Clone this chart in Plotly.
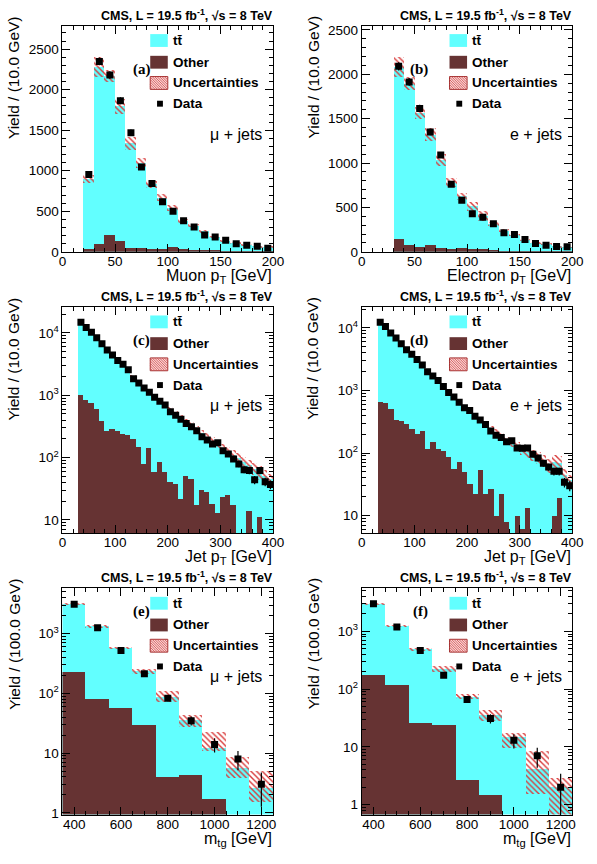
import numpy as np
import plotly.graph_objects as go

W, H = 597, 864

# ---------------- data ----------------
# (a) muon pT, 10 GeV bins from 20 to 200
a_centers = np.arange(25, 200, 10)
a_total = [905, 2280, 2170, 1800, 1345, 1100, 835, 672, 541, 387, 326, 256, 183, 142, 110, 90, 69, 57]
a_other = [41, 102, 212, 134, 53, 53, 41, 41, 61, 33, 25, 20, 20, 15, 12, 10, 8, 8]
a_unc = [50, 122, 71, 92, 81, 61, 40, 45, 40, 22, 20, 22, 14, 12, 10, 9, 7, 6]
a_data = [953, 2349, 2182, 1865, 1470, 1046, 843, 619, 500, 383, 305, 208, 183, 142, 98, 81, 69, 45]

# (b) electron pT, 10 GeV bins from 30 to 200
b_centers = np.arange(35, 200, 10)
b_total = [2090, 1900, 1567, 1325, 1034, 784, 627, 515, 410, 317, 243, 194, 138, 104, 93, 63, 52]
b_other = [149, 82, 56, 75, 49, 37, 49, 37, 37, 19, 15, 12, 10, 10, 10, 8, 8]
b_unc = [112, 75, 63, 75, 69, 56, 43, 50, 56, 20, 20, 12, 10, 10, 12, 6, 5]
b_data = [2090, 1914, 1616, 1351, 1090, 761, 582, 429, 388, 317, 216, 194, 138, 93, 75, 60, 56]

# (c) jet pT mu+jets, 10 GeV bins from 30 to 400
c_centers = np.arange(35, 400, 10)
c_total = [14000, 12000, 10000, 8200, 6700, 5400, 4400, 3650, 3100, 2600, 2000, 1650, 1380, 1150, 960,
           820, 700, 590, 510, 440, 380, 330, 285, 245, 215, 185, 165, 143, 126, 110, 97, 85, 75, 66,
           58, 51, 45]
c_other = [1000, 850, 750, 600, 380, 265, 290, 265, 235, 230, 195, 145, 80, 140, 58, 85, 58, 40, 38, 22,
           50, 45, 17, 30, 28, 18, 13, 23, 25, 17, 0, 0, 14, 0, 11, 0, 0]
c_unc_rel = [0.03, 0.03, 0.03, 0.03, 0.03, 0.035, 0.035, 0.04, 0.04, 0.045, 0.05, 0.05, 0.06, 0.06, 0.07,
             0.07, 0.08, 0.08, 0.09, 0.1, 0.1, 0.11, 0.12, 0.12, 0.13, 0.14, 0.15, 0.15, 0.17, 0.18, 0.2,
             0.2, 0.22, 0.22, 0.25, 0.22, 0.2]
c_data = [14800, 12150, 10250, 8330, 6680, 5310, 4420, 3600, 3140, 2550, 1840, 1570, 1310, 1116, 930,
          803, 694, 543, 475, 411, 351, 311, 268, 215, 191, 165, 173, 129, 114, 95, 79, 64, 62, 44, 62,
          41, 37]

# (d) jet pT e+jets
d_centers = np.arange(35, 400, 10)
d_total = [11800, 10200, 8200, 6800, 5600, 4500, 3800, 3150, 2550, 2050, 1700, 1420, 1180, 960, 800,
           660, 545, 470, 400, 340, 290, 245, 210, 185, 160, 145, 128, 115, 104, 94, 85, 76, 65, 72, 70,
           45, 37]
d_other = [646, 630, 495, 336, 324, 287, 239, 200, 225, 116, 147, 116, 109, 85, 56, 71, 50, 32, 22, 53,
           22, 27, 10, 22, 8, 0, 10, 6, 13, 0, 0, 0, 0, 10, 19, 0, 0]
d_unc_rel = [0.03, 0.03, 0.03, 0.03, 0.03, 0.035, 0.035, 0.04, 0.04, 0.045, 0.05, 0.05, 0.06, 0.06, 0.07,
             0.07, 0.08, 0.09, 0.1, 0.1, 0.1, 0.12, 0.13, 0.13, 0.14, 0.15, 0.16, 0.18, 0.2, 0.2, 0.22,
             0.22, 0.25, 0.3, 0.3, 0.25, 0.22]
d_data = [12300, 10500, 8240, 6870, 5590, 4490, 3790, 3120, 2545, 1995, 1705, 1440, 1157, 930, 785, 647,
          527, 477, 388, 336, 287, 225, 192, 177, 151, 157, 120, 119, 120, 96, 83, 69, 60, 51, 51, 34, 30]

# (e) m_tg mu+jets, 100 GeV bins 350..1250
e_centers = np.arange(400, 1201, 100)
e_total = [3100, 1320, 557, 229, 86, 35, 11.9, 5.6, 2.6]
e_other = [223, 80, 56, 29, 3.9, 4.3, 1.7, 0, 0]
e_up = [3200, 1370, 580, 250, 107, 42.7, 22, 8.4, 4.9]
e_down = [3000, 1270, 535, 205, 71, 27, 10.8, 3.8, 1.47]
e_data = [3100, 1260, 522, 214, 83, 35, 14, 8, 3]

# (f) m_tg e+jets
f_centers = np.arange(400, 1201, 100)
f_total = [2950, 1230, 480, 220, 72, 35, 14.8, 4.1, 2.0]
f_other = [174, 114, 25, 23.5, 2.6, 1.45, 0, 0, 0]
f_up = [3050, 1270, 505, 245, 80, 43.6, 17, 8.4, 2.9]
f_down = [2850, 1190, 455, 198, 67, 27.5, 9.4, 1.5, 0.6]
f_data = [3000, 1190, 467, 174, 66, 31, 13, 7, 2]

# ---------------- style ----------------
CYAN = "#62ffff"
BROWN = "#663333"
HATCH = "#d83a3a"
FONT = "Liberation Sans, Arial, sans-serif"
SERIF = "Liberation Serif, Times New Roman, serif"

PANELS = {
    "a": (60, 23, 276, 252),
    "b": (367, 23, 583, 252),
    "c": (60, 308, 276, 537),
    "d": (367, 308, 583, 537),
    "e": (60, 593, 276, 822),
    "f": (367, 593, 583, 822),
}


def px(x):
    return x / W


def py(y):
    return 1 - y / H


def nz(vals):
    return [v if v > 0 else None for v in vals]


fig = go.Figure()
layout = dict(width=W, height=H, margin=dict(l=0, r=0, t=0, b=0), paper_bgcolor="white",
              plot_bgcolor="rgba(0,0,0,0)", showlegend=False, barmode="overlay", bargap=0,
              font=dict(family=FONT, color="black"))
annotations = []
shapes = []


def add_panel(idx, key, centers, width, total, other, lo, hi, data, xcfg, ycfg, xtitle, ytitle, chan):
    L, T, R, B = PANELS[key]
    xa = "x" if idx == 1 else f"x{idx}"
    ya = "y" if idx == 1 else f"y{idx}"
    xname = "xaxis" if idx == 1 else f"xaxis{idx}"
    yname = "yaxis" if idx == 1 else f"yaxis{idx}"
    common = dict(xaxis=xa, yaxis=ya, width=[width] * len(centers), hoverinfo="skip")
    fig.add_trace(go.Bar(x=centers, y=nz(total), marker=dict(color=CYAN, line=dict(width=0)), **common))
    fig.add_trace(go.Bar(x=centers, y=nz(other), marker=dict(color=BROWN, line=dict(width=0)), **common))
    fig.add_trace(go.Bar(x=centers, base=lo, y=[h - l for h, l in zip(hi, lo)],
                         marker=dict(color=HATCH, line=dict(width=0),
                                     pattern=dict(shape="\\", fgcolor=HATCH, bgcolor="rgba(0,0,0,0)",
                                                  size=4, solidity=0.35, fillmode="replace")),
                         **common))
    err = np.sqrt(np.array(data, dtype=float))
    fig.add_trace(go.Scatter(x=centers, y=data, mode="markers", xaxis=xa, yaxis=ya,
                             marker=dict(symbol="square", size=7, color="black"),
                             error_y=dict(type="data", array=err, color="black", thickness=1.2, width=0),
                             hoverinfo="skip"))
    base_ax = dict(showline=True, linecolor="black", linewidth=1, mirror="ticks", ticks="inside",
                   ticklen=8, tickcolor="black", showgrid=False, zeroline=False,
                   tickfont=dict(family=FONT, size=13.5, color="black"))
    xd = dict(base_ax, domain=[px(L), px(R)], anchor=ya, ticklabelstandoff=-3, **xcfg)
    yd = dict(base_ax, domain=[py(B), py(T)], anchor=xa, **ycfg)
    layout[xname] = xd
    layout[yname] = yd

    # header
    annotations.append(dict(x=px(R + 2), y=py(T - 1), xref="paper", yref="paper", xanchor="right",
                            yanchor="bottom", showarrow=False,
                            text="<b>CMS, L = 19.5 fb<sup>-1</sup>, √s = 8 TeV</b>",
                            font=dict(family=FONT, size=12.5, color="black")))
    # panel label
    annotations.append(dict(x=px(L + 70), y=py(T + 34), xref="paper", yref="paper", showarrow=False,
                            text=f"<b>({key})</b>", font=dict(family=SERIF, size=15, color="black")))
    # channel
    annotations.append(dict(x=px(R - 9), y=py(T + 100), xref="paper", yref="paper", xanchor="right",
                            showarrow=False, text=chan, font=dict(family=FONT, size=16, color="black")))
    # axis titles
    annotations.append(dict(x=px(R + 1), y=py(B + 25), xref="paper", yref="paper", xanchor="right",
                            yanchor="middle", showarrow=False, text=xtitle,
                            font=dict(family=FONT, size=16, color="black")))
    annotations.append(dict(x=px(L - 50), y=py(T - 12), xref="paper", yref="paper", xanchor="center",
                            yanchor="top", textangle=-90, showarrow=False, text=ytitle,
                            font=dict(family=FONT, size=15.5, color="black")))
    # legend
    rows = [T + 15, T + 37, T + 58, T + 79]
    labels = ["tt\u0304", "Other", "Uncertainties", "Data"]
    bx0, bx1 = L + 90, L + 108
    for r, lab in zip(rows, labels):
        annotations.append(dict(x=px(L + 111), y=py(r), xref="paper", yref="paper", xanchor="left",
                                yanchor="middle", showarrow=False, text=f"<b>{lab}</b>",
                                font=dict(family=FONT, size=13.5, color="black")))
    h = 6.5
    shapes.append(dict(type="rect", xref="paper", yref="paper", x0=px(bx0), x1=px(bx1),
                       y0=py(rows[0] + h), y1=py(rows[0] - h), fillcolor=CYAN, line=dict(width=0)))
    shapes.append(dict(type="rect", xref="paper", yref="paper", x0=px(bx0), x1=px(bx1),
                       y0=py(rows[1] + h), y1=py(rows[1] - h), fillcolor=BROWN, line=dict(width=0)))
    shapes.append(dict(type="rect", xref="paper", yref="paper", x0=px(bx0), x1=px(bx1),
                       y0=py(rows[2] + h), y1=py(rows[2] - h), fillcolor="#f8d4d4",
                       line=dict(width=1, color="#a03030")))
    # hatch lines inside uncertainty legend box
    w_box, h_box = bx1 - bx0, 2 * h
    y0 = rows[2] - h
    path = ""
    k = -h_box
    while k < w_box:
        v0 = max(0, -k)
        v1 = min(h_box, w_box - k)
        if v1 > v0:
            path += f"M{px(bx0 + k + v0):.5f},{py(y0 + v0):.5f} L{px(bx0 + k + v1):.5f},{py(y0 + v1):.5f} "
        k += 2.5
    shapes.append(dict(type="path", xref="paper", yref="paper", path=path,
                       line=dict(width=0.8, color="#d04848")))
    shapes.append(dict(type="rect", xref="paper", yref="paper", x0=px(bx0 + 7), x1=px(bx0 + 13),
                       y0=py(rows[3] + 3), y1=py(rows[3] - 3), fillcolor="black", line=dict(width=0)))


def lin_x(rng, dtick, minor):
    return dict(range=rng, tickmode="linear", tick0=0, dtick=dtick,
                minor=dict(ticks="inside", ticklen=4, tickcolor="black", tick0=0, dtick=minor))


def lin_y(rng):
    return dict(range=rng, tickmode="linear", tick0=0, dtick=500,
                minor=dict(ticks="inside", ticklen=4, tickcolor="black", tick0=0, dtick=100))


def log_y(rng):
    majors = [1, 10, 100, 1000, 10000]
    texts = ["1", "10", "10<sup>2</sup>", "10<sup>3</sup>", "10<sup>4</sup>"]
    minors = [m * 10 ** p for p in range(-1, 5) for m in range(2, 10)]
    return dict(type="log", range=rng, tickmode="array", tickvals=majors, ticktext=texts,
                minor=dict(ticks="inside", ticklen=4, tickcolor="black", tickmode="array", tickvals=minors))


def mx_x():
    return dict(range=[350, 1250], tickmode="linear", tick0=400, dtick=200,
                minor=dict(ticks="inside", ticklen=4, tickcolor="black", tick0=400, dtick=50))


ylab10 = "Yield / (10.0 GeV)"
ylab100 = "Yield / (100.0 GeV)"
MU = "\u03bc + jets"
EL = "e + jets"

add_panel(1, "a", a_centers, 10, a_total, a_other,
          [t - u for t, u in zip(a_total, a_unc)], [t + u for t, u in zip(a_total, a_unc)], a_data,
          lin_x([0, 200], 50, 10), lin_y([0, 2790]), "Muon p<sub>T</sub> [GeV]", ylab10, MU)
add_panel(2, "b", b_centers, 10, b_total, b_other,
          [t - u for t, u in zip(b_total, b_unc)], [t + u for t, u in zip(b_total, b_unc)], b_data,
          lin_x([0, 200], 50, 10), lin_y([0, 2548]), "Electron p<sub>T</sub> [GeV]", ylab10, EL)
add_panel(3, "c", c_centers, 10, c_total, c_other,
          [t * (1 - u) for t, u in zip(c_total, c_unc_rel)], [t * (1 + u) for t, u in zip(c_total, c_unc_rel)],
          c_data, lin_x([0, 400], 100, 20), log_y([0.788, 4.413]), "Jet p<sub>T</sub> [GeV]", ylab10, MU)
add_panel(4, "d", d_centers, 10, d_total, d_other,
          [t * (1 - u) for t, u in zip(d_total, d_unc_rel)], [t * (1 + u) for t, u in zip(d_total, d_unc_rel)],
          d_data, lin_x([0, 400], 100, 20), log_y([0.72, 4.332]), "Jet p<sub>T</sub> [GeV]", ylab10, EL)
add_panel(5, "e", e_centers, 100, e_total, e_other, e_down, e_up, e_data,
          mx_x(), log_y([-0.028, 3.757]), "m<sub>tg</sub> [GeV]", ylab100, MU)
add_panel(6, "f", f_centers, 100, f_total, f_other, f_down, f_up, f_data,
          mx_x(), log_y([-0.171, 3.743]), "m<sub>tg</sub> [GeV]", ylab100, EL)

layout["annotations"] = annotations
layout["shapes"] = shapes
fig.update_layout(**layout)
fig.write_html("out.html")
